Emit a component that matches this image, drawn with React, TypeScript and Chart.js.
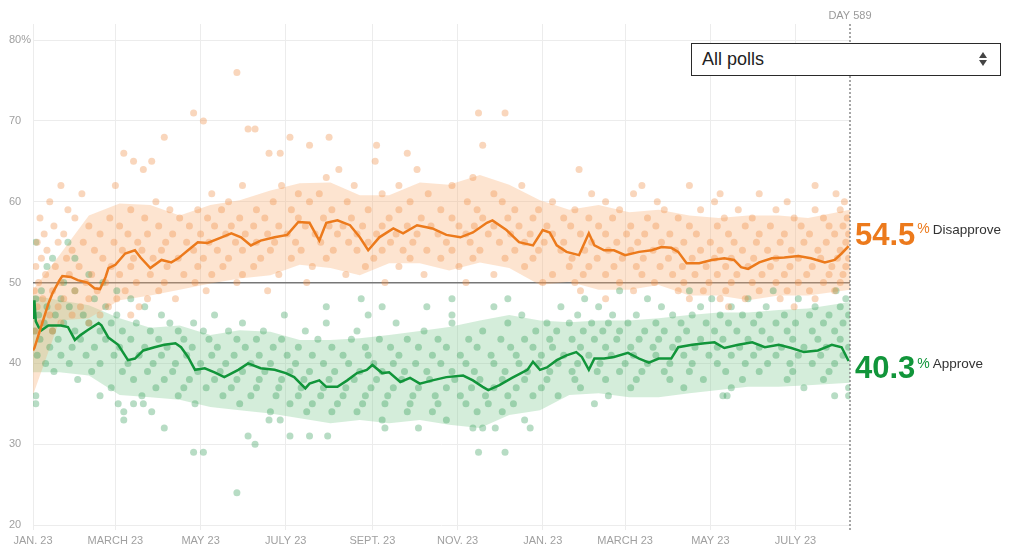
import React, { useEffect, useRef } from "react";
import { Chart, registerables } from "chart.js";

Chart.register(...registerables);

const FONT = '"Liberation Sans", Arial, Helvetica, sans-serif';

// ---- axes ----
const xTickDays = [0, 59, 120, 181, 243, 304, 365, 424, 485, 546];
const xTickLabels = ["JAN. 23", "MARCH 23", "MAY 23", "JULY 23", "SEPT. 23", "NOV. 23", "JAN. 23", "MARCH 23", "MAY 23", "JULY 23"];
const yTickValues = [20, 30, 40, 50, 60, 70, 80];
const currentDayLabel = "DAY 589";
const dropdownLabel = "All polls";
const disapproveLabel = "Disapprove";
const approveLabel = "Approve";

// ---- trend lines (days since Jan. 23, value %) ----
const disTrendDays = [0, 1, 5, 11, 14, 19, 21, 27, 32, 39, 44, 48, 52, 54, 59, 66, 73, 77, 84, 92, 99, 104, 111, 118, 125, 135, 142, 149, 156, 163, 173, 182, 190, 198, 205, 210, 218, 227, 234, 240, 248, 258, 265, 275, 286, 296, 306, 315, 325, 329, 339, 348, 358, 365, 370, 375, 382, 391, 398, 402, 409, 416, 424, 434, 443, 450, 457, 462, 468, 477, 486, 495, 502, 507, 512, 520, 529, 538, 548, 557, 567, 574, 579, 584];
const disTrendVals = [41.6, 41.9, 44.1, 47.4, 48.7, 50.3, 50.8, 50.7, 50.3, 50.0, 49.3, 49.2, 50.7, 51.8, 52.2, 53.6, 54.0, 53.1, 51.8, 52.8, 52.5, 53.0, 54.0, 55.0, 54.9, 55.6, 56.1, 55.6, 54.6, 55.2, 55.6, 55.9, 57.5, 57.4, 55.2, 57.4, 57.7, 57.1, 55.6, 54.0, 55.6, 56.7, 56.1, 57.1, 56.7, 55.9, 55.6, 56.2, 57.4, 57.7, 56.5, 55.0, 54.6, 56.5, 56.2, 54.6, 53.8, 53.4, 56.1, 54.6, 54.0, 54.0, 53.4, 53.8, 54.0, 54.4, 54.3, 53.8, 52.4, 52.4, 52.8, 53.0, 52.8, 51.9, 51.7, 52.5, 53.0, 53.1, 53.3, 53.0, 52.5, 52.8, 53.6, 54.5];

const appTrendDays = [0, 1, 2, 4, 6, 11, 20, 25, 30, 34, 39, 47, 49, 54, 61, 68, 73, 79, 87, 94, 102, 106, 111, 116, 123, 130, 137, 147, 154, 163, 173, 181, 187, 195, 198, 205, 210, 218, 225, 232, 239, 243, 250, 255, 263, 270, 277, 286, 296, 308, 315, 322, 326, 334, 343, 354, 358, 363, 368, 375, 382, 389, 393, 398, 402, 409, 416, 426, 434, 441, 448, 457, 462, 472, 481, 488, 495, 505, 515, 524, 534, 543, 552, 562, 572, 579, 584];
const appTrendVals = [45.5, 47.8, 45.2, 44.5, 44.1, 44.7, 44.7, 44.5, 42.9, 43.5, 44.1, 45.0, 44.7, 43.2, 42.3, 40.4, 40.6, 41.6, 42.0, 42.3, 42.5, 42.0, 40.8, 39.2, 39.4, 38.9, 38.3, 39.2, 40.0, 39.4, 39.2, 38.8, 38.3, 36.9, 37.5, 37.9, 37.1, 37.1, 37.9, 38.8, 39.2, 39.8, 38.8, 38.9, 37.7, 38.2, 37.5, 37.9, 38.3, 38.5, 37.9, 37.1, 36.7, 37.3, 38.2, 39.2, 40.2, 39.2, 39.5, 40.4, 41.0, 41.4, 40.8, 39.2, 40.6, 40.6, 40.8, 41.3, 40.6, 40.1, 40.6, 40.6, 42.0, 42.3, 42.5, 42.6, 41.9, 42.3, 42.6, 42.0, 42.3, 41.9, 41.4, 41.6, 42.3, 42.0, 40.3];

// ---- uncertainty bands ----
const bandDays = [0, 19, 40, 62, 84, 105, 127, 148, 170, 191, 213, 234, 255, 277, 298, 320, 341, 363, 384, 405, 427, 448, 470, 491, 512, 534, 555, 585];
const disBandHigh = [49.1, 53.4, 58.3, 59.8, 59.6, 58.3, 59.6, 60.2, 61.4, 62.3, 62.4, 60.8, 60.8, 62.4, 62.1, 63.3, 62.1, 60.2, 59.0, 59.6, 58.7, 59.0, 58.3, 58.0, 58.3, 58.3, 58.0, 59.0];
const disBandLow = [36.1, 45.3, 45.6, 47.8, 48.4, 49.1, 49.9, 50.5, 50.9, 52.2, 51.8, 50.9, 52.4, 52.4, 51.5, 52.5, 51.8, 49.7, 50.1, 49.1, 49.1, 49.7, 48.4, 48.4, 47.8, 48.4, 48.4, 49.1];
const appBandHigh = [48.4, 47.8, 47.2, 45.6, 44.4, 44.7, 43.5, 44.1, 43.9, 42.9, 42.9, 43.1, 43.5, 44.0, 44.5, 45.3, 46.0, 45.3, 45.1, 45.3, 45.3, 45.6, 46.0, 46.3, 46.3, 46.6, 46.8, 47.6];
const appBandLow = [38.9, 38.9, 38.5, 36.1, 35.8, 35.5, 34.6, 34.2, 33.8, 33.2, 32.6, 33.0, 32.6, 33.0, 32.4, 32.0, 33.6, 34.2, 36.1, 36.3, 35.8, 35.8, 36.3, 36.7, 37.1, 37.1, 37.3, 37.6];

// ---- individual polls: [value, days] ----
const disapprovePollRows: [number, number[]][] = [
  [76, [146]],
  [71, [115, 319, 338]],
  [70, [122]],
  [69, [154, 159]],
  [68, [94, 184, 212]],
  [67, [198, 246, 322]],
  [66, [65, 169, 177, 268]],
  [65, [72, 85, 245]],
  [64, [79, 219, 275, 391]],
  [63, [210, 315]],
  [62, [20, 59, 150, 178, 230, 262, 300, 350, 436, 470, 560]],
  [61, [35, 128, 190, 205, 250, 283, 330, 400, 430, 492, 520, 575]],
  [60, [12, 88, 140, 172, 198, 225, 270, 311, 336, 372, 410, 447, 488, 540, 581]],
  [59, [25, 70, 98, 118, 135, 160, 185, 214, 240, 262, 292, 318, 345, 362, 388, 420, 452, 478, 505, 532, 560, 578]],
  [58, [5, 30, 55, 80, 105, 125, 148, 166, 190, 208, 228, 255, 278, 300, 322, 340, 358, 380, 398, 415, 440, 462, 495, 515, 545, 566, 583]],
  [57, [15, 40, 62, 90, 112, 130, 142, 158, 176, 195, 212, 222, 236, 250, 268, 285, 305, 316, 330, 348, 368, 385, 405, 428, 446, 470, 490, 510, 528, 550, 570, 580]],
  [56, [8, 22, 48, 68, 82, 100, 120, 138, 152, 168, 182, 202, 218, 232, 246, 260, 275, 290, 310, 326, 342, 356, 372, 392, 410, 425, 438, 456, 475, 498, 520, 538, 556, 574, 584]],
  [55, [3, 18, 36, 58, 75, 95, 110, 126, 145, 160, 173, 188, 206, 226, 240, 256, 272, 296, 313, 334, 352, 366, 380, 400, 418, 433, 450, 466, 485, 502, 518, 535, 552, 568, 582]],
  [54, [10, 28, 44, 64, 78, 92, 115, 132, 150, 170, 192, 215, 232, 250, 265, 282, 300, 320, 345, 362, 378, 395, 412, 428, 444, 460, 478, 492, 508, 526, 543, 562, 578]],
  [53, [6, 24, 50, 72, 86, 104, 122, 140, 163, 185, 210, 244, 270, 292, 315, 338, 358, 386, 404, 422, 437, 455, 472, 488, 500, 516, 532, 548, 564, 576, 584]],
  [52, [2, 16, 33, 56, 70, 96, 118, 136, 158, 200, 238, 262, 305, 352, 384, 398, 416, 432, 449, 465, 482, 496, 512, 528, 542, 558, 572, 582]],
  [51, [9, 26, 42, 62, 84, 108, 128, 150, 176, 224, 280, 330, 372, 394, 410, 436, 458, 474, 490, 504, 522, 538, 554, 570, 580]],
  [50, [4, 20, 38, 52, 74, 94, 116, 146, 196, 252, 310, 365, 388, 420, 445, 466, 484, 500, 515, 532, 548, 566, 578]],
  [49, [1, 14, 30, 46, 66, 90, 124, 168, 392, 430, 462, 480, 496, 520, 540, 556, 574]],
  [48, [7, 22, 40, 60, 82, 102, 410, 470, 492, 510, 535, 560]],
  [47, [3, 18, 34, 54, 76, 498, 545]],
  [46, [0, 12, 28, 48, 70]],
  [45, [5, 20, 40]],
  [44, [2, 14]],
];

const approvePollRows: [number, number[]][] = [
  [55, [2, 25]],
  [53, [14, 30]],
  [52, [10]],
  [51, [40]],
  [50, [22, 50]],
  [49, [6, 30, 60, 420, 470, 530, 575]],
  [48, [2, 20, 44, 70, 235, 300, 340, 395, 440, 486, 512, 548, 582]],
  [47, [10, 26, 52, 80, 210, 250, 282, 330, 378, 405, 450, 478, 500, 525, 560, 578]],
  [46, [4, 16, 36, 60, 92, 130, 180, 240, 300, 350, 390, 415, 432, 458, 472, 492, 508, 520, 538, 556, 570, 584]],
  [45, [8, 22, 40, 56, 74, 98, 115, 150, 210, 260, 300, 340, 368, 384, 400, 412, 426, 446, 464, 482, 498, 516, 532, 546, 566, 580]],
  [44, [1, 14, 30, 48, 64, 84, 104, 122, 140, 165, 195, 232, 280, 322, 360, 375, 394, 408, 420, 438, 452, 468, 488, 504, 522, 540, 558, 574]],
  [43, [5, 18, 34, 52, 70, 90, 108, 126, 146, 160, 178, 204, 228, 248, 268, 290, 312, 335, 352, 370, 386, 402, 418, 434, 448, 462, 478, 494, 512, 528, 544, 562, 578]],
  [42, [12, 28, 44, 62, 80, 96, 114, 132, 152, 172, 190, 214, 238, 256, 276, 296, 318, 342, 358, 372, 392, 410, 428, 444, 458, 474, 490, 506, 520, 536, 552, 568, 584]],
  [41, [3, 20, 38, 58, 76, 92, 110, 128, 144, 162, 182, 200, 222, 240, 262, 286, 306, 328, 346, 364, 380, 398, 414, 430, 446, 466, 484, 500, 516, 532, 548, 564, 580]],
  [40, [9, 26, 48, 68, 86, 102, 120, 138, 156, 170, 188, 208, 226, 244, 258, 274, 292, 310, 330, 348, 362, 376, 390, 406, 424, 440, 456, 472, 490, 510, 526, 542, 558, 574]],
  [39, [15, 42, 64, 82, 100, 118, 134, 150, 166, 184, 198, 216, 234, 250, 266, 282, 300, 316, 338, 354, 370, 386, 404, 420, 436, 452, 470, 496, 520, 544, 570]],
  [38, [32, 72, 94, 112, 130, 146, 162, 178, 194, 212, 230, 246, 264, 284, 302, 320, 336, 352, 368, 388, 410, 432, 456, 480, 508, 540, 566]],
  [37, [56, 88, 108, 124, 142, 160, 176, 192, 208, 224, 242, 258, 276, 296, 314, 330, 346, 364, 392, 428, 466, 500, 552, 584]],
  [36, [2, 48, 78, 104, 136, 156, 174, 190, 206, 222, 238, 254, 272, 288, 306, 324, 340, 358, 376, 412, 494, 497, 574, 584]],
  [35, [2, 61, 72, 79, 116, 148, 184, 200, 218, 236, 252, 270, 290, 310, 326, 344, 402]],
  [34, [65, 85, 170, 196, 214, 232, 268, 286, 318, 336]],
  [33, [65, 169, 177, 250, 296, 352]],
  [32, [94, 252, 276, 315, 322, 331, 356]],
  [31, [154, 184, 198, 211]],
  [30, [159]],
  [29, [115, 122, 319, 338]],
  [24, [146]],
];

const DIS_COLOR = "#ec7a1c";
const APP_COLOR = "#11953a";

const pairs = (xs: number[], ys: number[]) => xs.map((x, i) => ({ x, y: ys[i] }));
const rowsToPoints = (rows: [number, number[]][]) =>
  rows.flatMap(([v, days]) => days.map((d) => ({ x: d, y: v })));

const overlayPlugin = {
  id: "overlay",
  afterDraw(chart: any) {
    const { ctx, chartArea } = chart;
    const xr = chartArea.right;
    ctx.save();
    // dotted "today" line
    ctx.strokeStyle = "#8a8a8a";
    ctx.lineWidth = 1.5;
    ctx.setLineDash([2, 2]);
    ctx.beginPath();
    ctx.moveTo(xr, chartArea.top);
    ctx.lineTo(xr, chartArea.bottom + 7);
    ctx.stroke();
    ctx.setLineDash([]);
    // DAY label
    ctx.fillStyle = "#9a9a9a";
    ctx.font = `11px ${FONT}`;
    ctx.textAlign = "center";
    ctx.textBaseline = "alphabetic";
    ctx.fillText(currentDayLabel, xr, 19);

    const disLast = disTrendVals[disTrendVals.length - 1].toFixed(1);
    const appLast = appTrendVals[appTrendVals.length - 1].toFixed(1);
    ctx.textAlign = "left";
    // Disapprove
    ctx.fillStyle = DIS_COLOR;
    ctx.font = `bold 31px ${FONT}`;
    ctx.fillText(disLast, xr + 5, 245);
    let w = ctx.measureText(disLast).width;
    ctx.font = `14px ${FONT}`;
    ctx.fillText("%", xr + 7 + w, 233);
    let pw = ctx.measureText("%").width;
    ctx.fillStyle = "#333";
    ctx.font = `13.5px ${FONT}`;
    ctx.fillText(disapproveLabel, xr + 10 + w + pw, 234);
    // Approve
    ctx.fillStyle = APP_COLOR;
    ctx.font = `bold 31px ${FONT}`;
    ctx.fillText(appLast, xr + 5, 378);
    w = ctx.measureText(appLast).width;
    ctx.font = `14px ${FONT}`;
    ctx.fillText("%", xr + 7 + w, 368);
    pw = ctx.measureText("%").width;
    ctx.fillStyle = "#333";
    ctx.font = `13.5px ${FONT}`;
    ctx.fillText(approveLabel, xr + 10 + w + pw, 368);
    ctx.restore();
  },
};

export default function App() {
  const ref = useRef<HTMLCanvasElement>(null);

  useEffect(() => {
    document.body.style.margin = "0";
    const canvas = ref.current;
    if (!canvas) return;
    const chart = new Chart(canvas, {
      type: "line",
      data: {
        datasets: [
          {
            label: "Disapprove",
            data: pairs(disTrendDays, disTrendVals),
            borderColor: DIS_COLOR,
            borderWidth: 2.5,
            pointRadius: 0,
            fill: false,
            tension: 0,
            order: 0,
          },
          {
            label: "Approve",
            data: pairs(appTrendDays, appTrendVals),
            borderColor: APP_COLOR,
            borderWidth: 2.5,
            pointRadius: 0,
            fill: false,
            tension: 0,
            order: 0,
          },
          {
            label: "Disapprove polls",
            data: rowsToPoints(disapprovePollRows),
            showLine: false,
            pointRadius: 3.5,
            pointBackgroundColor: "rgba(238,140,70,0.36)",
            pointBorderWidth: 0,
            borderColor: "transparent",
            order: 1,
          },
          {
            label: "Approve polls",
            data: rowsToPoints(approvePollRows),
            showLine: false,
            pointRadius: 3.5,
            pointBackgroundColor: "rgba(35,150,75,0.33)",
            pointBorderWidth: 0,
            borderColor: "transparent",
            order: 1,
          },
          {
            label: "Approve low",
            data: pairs(bandDays, appBandLow),
            borderColor: "transparent",
            borderWidth: 0,
            pointRadius: 0,
            fill: false,
            tension: 0,
            order: 3,
          },
          {
            label: "Approve high",
            data: pairs(bandDays, appBandHigh),
            borderColor: "transparent",
            borderWidth: 0,
            pointRadius: 0,
            backgroundColor: "rgba(120,200,140,0.32)",
            fill: "-1",
            tension: 0,
            order: 3,
          },
          {
            label: "Disapprove low",
            data: pairs(bandDays, disBandLow),
            borderColor: "transparent",
            borderWidth: 0,
            pointRadius: 0,
            fill: false,
            tension: 0,
            order: 2,
          },
          {
            label: "Disapprove high",
            data: pairs(bandDays, disBandHigh),
            borderColor: "transparent",
            borderWidth: 0,
            pointRadius: 0,
            backgroundColor: "rgba(250,170,110,0.32)",
            fill: "-1",
            tension: 0,
            order: 2,
          },
        ],
      },
      options: {
        animation: false,
        responsive: false,
        maintainAspectRatio: false,
        events: [],
        layout: { padding: { left: 9, right: 173, top: 24, bottom: 0 } },
        plugins: {
          legend: { display: false },
          tooltip: { enabled: false },
        },
        scales: {
          x: {
            type: "linear",
            min: 0,
            max: 585,
            afterBuildTicks: (scale: any) => {
              scale.ticks = xTickDays.map((v) => ({ value: v }));
            },
            afterFit: (scale: any) => {
              scale.height = 26;
            },
            border: { display: false },
            grid: {
              color: "#ececec",
              lineWidth: 1,
              drawTicks: true,
              tickLength: 5,
            },
            ticks: {
              autoSkip: false,
              maxRotation: 0,
              padding: 4,
              color: "#a0a0a0",
              font: { family: FONT, size: 11 },
              callback: (value: any) => {
                const i = xTickDays.indexOf(Number(value));
                return i >= 0 ? xTickLabels[i] : "";
              },
            },
          },
          y: {
            type: "linear",
            min: 20,
            max: 82,
            afterBuildTicks: (scale: any) => {
              scale.ticks = yTickValues.map((v) => ({ value: v }));
            },
            afterFit: (scale: any) => {
              scale.width = 24;
            },
            border: { display: false },
            grid: {
              drawTicks: false,
              color: (c: any) => (c.tick && c.tick.value === 50 ? "#777777" : "#ececec"),
              lineWidth: (c: any) => (c.tick && c.tick.value === 50 ? 1.5 : 1),
            },
            ticks: {
              crossAlign: "far",
              padding: 0,
              color: "#a0a0a0",
              font: { family: FONT, size: 11 },
              callback: (value: any) => (Number(value) === 80 ? "80%" : String(value)),
            },
          },
        },
      },
      plugins: [overlayPlugin],
    } as any);
    return () => chart.destroy();
  }, []);

  return (
    <div style={{ position: "relative", width: 1023, height: 551, background: "#fff", overflow: "hidden" }}>
      <canvas ref={ref} width={1023} height={551} style={{ display: "block", width: 1023, height: 551 }} />
      <div
        style={{
          position: "absolute",
          left: 691,
          top: 43,
          width: 310,
          height: 33,
          boxSizing: "border-box",
          border: "1.5px solid #2a2a2a",
          background: "#fff",
          fontFamily: FONT,
          fontSize: 18,
          color: "#222",
          lineHeight: "30px",
          paddingLeft: 10,
        }}
      >
        {dropdownLabel}
        <div
          style={{
            position: "absolute",
            right: 13,
            top: 8,
            width: 0,
            height: 0,
            borderLeft: "4px solid transparent",
            borderRight: "4px solid transparent",
            borderBottom: "6px solid #444",
          }}
        />
        <div
          style={{
            position: "absolute",
            right: 13,
            top: 16,
            width: 0,
            height: 0,
            borderLeft: "4px solid transparent",
            borderRight: "4px solid transparent",
            borderTop: "6px solid #444",
          }}
        />
      </div>
    </div>
  );
}
